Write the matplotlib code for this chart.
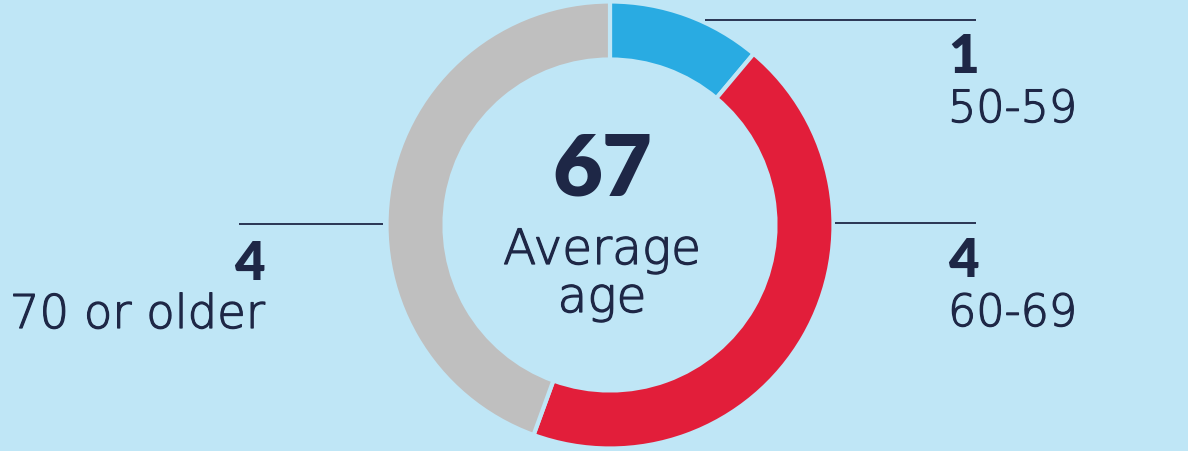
import matplotlib
matplotlib.use("Agg")
import matplotlib.pyplot as plt
import matplotlib.patheffects as pe

# Данные диаграммы
age_groups = ["50-59", "60-69", "70 or older"]
counts = [1, 4, 4]
slice_colors = ["#29ABE2", "#E21E3A", "#BFBFBF"]
average_age = 67
center_label = "Average\nage"

BG = "#BFE6F6"
NAVY = "#1E2746"
W, H = 1188, 452

# Лёгкое утолщение тонкого шрифта
thicker = [pe.withStroke(linewidth=0.9, foreground=NAVY)]

fig = plt.figure(figsize=(W / 100, H / 100), dpi=100, facecolor=BG)
ax = fig.add_axes([0, 0, 1, 1])

# Кольцевая диаграмма (координаты в пикселях, y вверх)
cx, cy, r = 610, H - 226, 223.5
wedges, _ = ax.pie(
    counts,
    colors=slice_colors,
    startangle=90,
    counterclock=False,
    center=(cx, cy),
    radius=r,
    wedgeprops=dict(width=58, edgecolor=BG, linewidth=3),
    frame=True,
)
ax.set_xlim(0, W)
ax.set_ylim(0, H)
ax.set_aspect("equal")
ax.axis("off")

# Центр
ax.text(cx - 8, H - 195, str(average_age), ha="center", va="baseline",
        fontsize=62, fontweight="heavy", family="Lato", color=NAVY)
lines = center_label.split("\n")
ax.text(cx - 8, H - 265, lines[0], ha="center", va="baseline",
        fontsize=35, fontweight="light", family="DejaVu Sans", color=NAVY,
        path_effects=thicker)
ax.text(cx - 8, H - 313, lines[1], ha="center", va="baseline",
        fontsize=35, fontweight="light", family="DejaVu Sans", color=NAVY,
        path_effects=thicker)

# Выноски: линия (x0, x1, y), текст (x, база числа, база подписи), выравнивание
callouts = [
    ((705, 976, 21), (948, 73, 123), "left", 32),
    ((835, 976, 224), (948, 277, 327), "left", 32),
    ((239, 383, 225), (265, 280, 329), "right", 33.5),
]
for i, ((x0, x1, ly), (tx, y_num, y_lab), ha, fs) in enumerate(callouts):
    ax.plot([x0, x1], [H - ly, H - ly], color=NAVY, lw=1.3,
            solid_capstyle="butt")
    ax.text(tx, H - y_num, str(counts[i]), ha=ha, va="baseline",
            fontsize=38, fontweight="heavy", family="Lato", color=NAVY)
    ax.text(tx, H - y_lab, age_groups[i], ha=ha, va="baseline",
            fontsize=fs, fontweight="light", family="DejaVu Sans", color=NAVY,
            path_effects=thicker)

fig.savefig("out.png", dpi=100, facecolor=BG)
